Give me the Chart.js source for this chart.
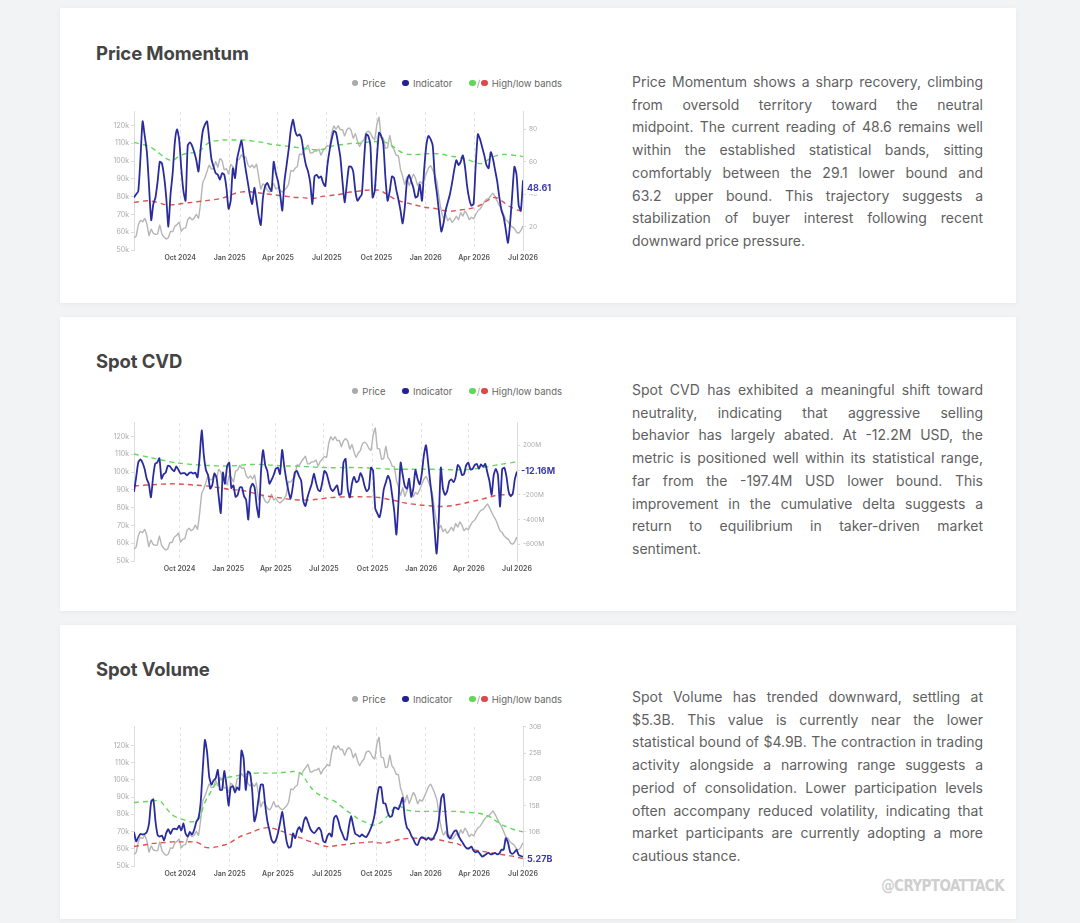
<!DOCTYPE html>
<html><head><meta charset="utf-8">
<script src="https://cdn.jsdelivr.net/npm/chart.js@4.4.1/dist/chart.umd.min.js"></script>
<style>
html,body{margin:0;padding:0;}
body{width:1080px;height:923px;overflow:hidden;background:#f2f3f5;font-family:Inter,"Noto Sans",sans-serif;position:relative;}
.card{position:absolute;left:60px;width:956px;background:#fff;box-shadow:0 1px 5px rgba(0,0,0,0.05);}
.title{position:absolute;left:36px;font-size:18.5px;font-weight:700;color:#444;line-height:22px;margin:0;letter-spacing:-0.1px;}
.legend{position:absolute;right:454px;height:12px;display:flex;align-items:center;font-size:9.5px;color:#666;white-space:nowrap;}
.legend .item{display:flex;align-items:center;margin-left:17px;}
.legend .dot{display:inline-block;width:6.5px;height:6.5px;border-radius:50%;margin-right:4px;}
.legend .sl{margin:0 1px;color:#999;}
.chartbox{position:absolute;left:36px;width:470px;}
.text{position:absolute;left:572px;width:351px;font-size:14px;line-height:22.7px;color:#5f5f5f;}
.text div{text-align:justify;text-align-last:justify;white-space:nowrap;}
.text div.last{text-align:left;text-align-last:left;}
.wm{position:absolute;right:12px;top:252px;font-size:15px;font-weight:800;color:#cfcfcf;letter-spacing:-0.6px;font-family:"DejaVu Sans Condensed","Liberation Sans Narrow",sans-serif;}
</style>
</head>
<body>

<div class="card" style="top:8px;height:295px;">
  <div class="title" style="top:34px;">Price Momentum</div>
  <div class="legend" style="top:69px;">
    <span class="item"><span class="dot" style="background:#aaaaaa"></span>Price</span>
    <span class="item"><span class="dot" style="background:#23238f"></span>Indicator</span>
    <span class="item"><span class="dot" style="background:#5fd85a;margin-right:0"></span><span class="sl">/</span><span class="dot" style="background:#d94a48"></span>High/low bands</span>
  </div>
  <div class="chartbox" style="top:97px;height:162px;"><canvas id="c1"></canvas></div>
  <div class="text" style="top:63px;">
    <div>Price Momentum shows a sharp recovery, climbing</div>
    <div>from oversold territory toward the neutral</div>
    <div>midpoint. The current reading of 48.6 remains well</div>
    <div>within the established statistical bands, sitting</div>
    <div>comfortably between the 29.1 lower bound and</div>
    <div>63.2 upper bound. This trajectory suggests a</div>
    <div>stabilization of buyer interest following recent</div>
    <div class="last">downward price pressure.</div>
  </div>
</div>

<div class="card" style="top:317px;height:294px;">
  <div class="title" style="top:33px;">Spot CVD</div>
  <div class="legend" style="top:68px;">
    <span class="item"><span class="dot" style="background:#aaaaaa"></span>Price</span>
    <span class="item"><span class="dot" style="background:#23238f"></span>Indicator</span>
    <span class="item"><span class="dot" style="background:#5fd85a;margin-right:0"></span><span class="sl">/</span><span class="dot" style="background:#d94a48"></span>High/low bands</span>
  </div>
  <div class="chartbox" style="top:99px;height:162px;"><canvas id="c2"></canvas></div>
  <div class="text" style="top:62px;">
    <div>Spot CVD has exhibited a meaningful shift toward</div>
    <div>neutrality, indicating that aggressive selling</div>
    <div>behavior has largely abated. At -12.2M USD, the</div>
    <div>metric is positioned well within its statistical range,</div>
    <div>far from the -197.4M USD lower bound. This</div>
    <div>improvement in the cumulative delta suggests a</div>
    <div>return to equilibrium in taker-driven market</div>
    <div class="last">sentiment.</div>
  </div>
</div>

<div class="card" style="top:625px;height:294px;">
  <div class="title" style="top:33px;">Spot Volume</div>
  <div class="legend" style="top:68px;">
    <span class="item"><span class="dot" style="background:#aaaaaa"></span>Price</span>
    <span class="item"><span class="dot" style="background:#23238f"></span>Indicator</span>
    <span class="item"><span class="dot" style="background:#5fd85a;margin-right:0"></span><span class="sl">/</span><span class="dot" style="background:#d94a48"></span>High/low bands</span>
  </div>
  <div class="chartbox" style="top:95px;height:166px;"><canvas id="c3"></canvas></div>
  <div class="text" style="top:61px;">
    <div>Spot Volume has trended downward, settling at</div>
    <div>$5.3B. This value is currently near the lower</div>
    <div>statistical bound of $4.9B. The contraction in trading</div>
    <div>activity alongside a narrowing range suggests a</div>
    <div>period of consolidation. Lower participation levels</div>
    <div>often accompany reduced volatility, indicating that</div>
    <div>market participants are currently adopting a more</div>
    <div class="last">cautious stance.</div>
  </div>
  <div class="wm">@CRYPTOATTACK</div>
</div>

<script>
// ---------- data ----------
const startDate = '2024-07-07';
const stepDays = 4;        // sampling of price / indicator series
const bandStepDays = 12;   // sampling of high/low bands

const quarterLabels = ['Oct 2024','Jan 2025','Apr 2025','Jul 2025','Oct 2025','Jan 2026','Apr 2026','Jul 2026'];
const quarterDates  = ['2024-10-01','2025-01-01','2025-04-01','2025-07-01','2025-10-01','2026-01-01','2026-04-01','2026-07-01'];

const priceTicks = [50,60,70,80,90,100,110,120]; // thousands USD

// BTC price, thousands USD
const price = [
56.7,57.8,64.0,66.7,65.9,67.8,64.6,58.1,61.7,59.4,
58.9,59.0,64.1,59.0,57.3,56.2,57.0,60.5,60.3,63.3,
64.3,65.6,60.6,62.2,62.4,67.0,68.4,67.0,67.9,70.2,
67.8,76.6,88.0,90.6,94.3,97.7,95.6,95.9,99.9,96.6,
101.4,100.2,95.1,95.8,92.8,98.1,96.9,94.5,100.5,101.1,
103.7,102.0,102.4,98.0,96.5,97.8,96.1,98.3,91.4,84.3,
87.2,86.2,83.7,82.6,84.2,87.5,84.3,85.2,83.5,82.6,
83.7,84.9,87.5,94.7,94.3,96.0,97.0,104.0,103.6,105.6,
107.3,108.9,104.6,104.7,105.7,105.7,106.8,103.3,106.0,107.3,
108.8,108.2,116.0,119.8,117.9,119.9,117.6,117.8,114.2,117.5,
118.7,117.4,112.9,115.4,111.2,108.2,110.7,112.1,116.0,116.8,
115.7,113.3,112.2,120.6,124.7,113.2,113.0,107.2,107.6,114.5,
108.3,106.5,103.3,103.0,95.5,91.5,86.8,91.3,86.3,89.4,
92.7,90.3,86.2,88.5,87.5,90,93,96,97.5,95,
92,88,79,72,68,70,66.5,68,65.5,67,
69,67,71,69,72,70,67,68.5,67.5,70,
72,73,75,77,78.5,79,80.5,82,80,77.5,
75,73,70,67,66,64,63,62,60,59.5,
61,63.5];

// Price Momentum
const momentum = [
38,40,42,62,85,76,66,45,24,34,
38,48,60,59,51,38,20,40,53,72,
80,74,56,42,36,70,72,70,66,61,
54,68,79,83,85,74,62,57,53,52,
49,53,52,44,31,36,56,50,62,68,
73,64,55,47,39,34,44,36,27,21,
38,45,47,44,42,60,53,48,40,30,
48,58,68,80,86,79,76,77,74,65,
58,54,47,34,51,52,50,51,47,45,
58,67,74,79,78,71,63,48,35,46,
57,57,54,42,36,38,40,60,77,76,
70,38,42,62,78,76,71,50,36,42,
51,50,43,37,30,22,32,48,52,48,
44,38,39,46,36,55,70,76,74,70,
50,40,28,17,22,30,35,40,47,55,
61,58,60,64,57,45,37,33,34,58,
77,74,69,64,58,56,66,62,55,48,
38,30,26,18,10,22,40,57,52,33,
30,48.61];
const momentumHigh = [
72,71,70,68,65,62,61,63.5,65,65.5,
66,70,72.5,73,73.5,73.5,73.5,73.5,73,72.5,
72,71,70.5,70,69.5,69,68.5,68,67.5,67.5,
68.5,70,70.5,71,71.5,71.5,72,72.5,72.5,72,
70,67,65,64.5,64.5,65,65,65,64.5,63.5,
63,62,61,59.5,59,61.5,63.5,64.5,64.5,64,
63.5,63.2];
const momentumLow = [
35,35.5,36,35.5,34.5,33.5,33.5,34,34.5,35,
35.5,36,36.5,37,38,39.5,41,41.5,41.5,41,
40.5,40,39.5,39,38.5,38,38,37.5,37.5,38.5,
39,39.5,40,41,41.5,42,42.5,42.5,42.5,40.5,
38,36,35,34,33,32,31.5,31,30,29.5,
30,30.5,31,32,34,36.5,38,36,33,31,
29.5,29.1];
const momentumTicks = [20,40,60,80];

// Spot CVD, millions USD
const cvd = [
-176,-60,60,85,60,10,-70,-110,-220,-60,
50,62,95,-70,-33,-20,35,30,5,-10,
30,2,-28,-25,-25,-42,-25,-18,-28,-20,
-60,100,320,120,0,-40,-150,-120,-30,-60,
-210,-346,-20,-111,30,59,-145,-124,-216,-200,
-140,-140,-210,-242,-399,-150,-110,-140,-290,-380,
-20,160,40,-7,-110,-80,-40,10,20,-33,
163,30,-80,-170,-230,-140,-20,-8,-50,-85,
-250,-290,-220,-163,-110,-30,-100,-160,-170,-98,
-7,-28,-90,-150,-170,-145,-124,-200,-190,60,
90,-150,-220,-110,-55,-98,-88,-25,-60,-130,
-170,-150,20,-7,-307,-350,-380,-300,-160,-100,
-46,-85,-203,-333,-520,-255,60,-40,-130,-150,
-70,-216,-150,0,-70,-115,-30,120,200,60,
-100,-250,-470,-673,-412,20,-150,-200,-170,-90,
-75,-98,-55,40,20,-40,-30,40,59,5,
10,40,50,10,46,25,50,-20,-90,-200,
-40,10,-40,-294,7,18,-50,-170,-210,-190,
-72,-12.16];
const cvdHigh = [
129,118,107,96,85,74,64,56,50,46,
42,38,36,34,33,34,36,40,44,46,
45,42,38,35,33,32,30,28,25,22,
20,19,19,20,20,20,19,17,14,11,
8,7,6,6,6,7,7,6,5,4,
3,2,3,6,12,20,30,40,48,56,
64,67];
const cvdLow = [
-129,-125,-121,-118,-115,-112,-111,-112,-115,-119,
-123,-126,-132,-140,-148,-155,-160,-165,-175,-188,
-200,-210,-216,-224,-232,-238,-241,-242,-240,-235,
-228,-222,-218,-216,-215,-215,-216,-216,-218,-225,
-235,-245,-258,-268,-275,-281,-286,-290,-294,-293,
-288,-278,-268,-255,-245,-232,-218,-205,-200,-198,
-197.5,-197.4];
const cvdTicks = [200,0,-200,-400,-600];

// Spot Volume, billions USD
const volume = [
10.0,8.2,9.0,9.6,9.5,9.6,10.0,11.6,15.8,16.2,
12.0,9.4,9.1,9.3,8.4,9.8,10.5,9.6,10.5,10.6,
10.5,11.2,10.3,11.6,9.7,9.1,10.0,9.5,10.4,11.9,
12.6,15.5,22.0,27.5,25.2,20.5,19.0,19.8,20.2,21.8,
18.0,18.0,21.6,19.0,15.0,18.5,18.7,17.5,18.5,18.0,
25.5,24.0,18.0,21.5,21.2,17.8,12.0,13.5,16.5,19.0,
19.0,15.3,12.2,10.3,8.5,7.9,8.4,9.8,11.8,13.8,
11.0,8.2,7.0,7.2,9.7,8.8,10.3,10.9,10.0,12.0,
12.8,11.8,10.6,10.0,9.8,10.3,10.8,10.2,8.3,8.0,
9.2,9.7,9.1,12.5,13.1,12.2,10.6,9.6,8.6,8.5,
11.0,13.0,11.2,9.6,9.4,9.1,9.5,9.2,9.0,9.6,
10.5,11.6,13.4,16.3,18.5,18.5,15.5,15.4,13.8,12.9,
13.0,14.6,14.6,14.3,15.3,16.5,12.8,10.8,10.3,9.3,
8.6,7.7,7.5,8.6,9.0,8.8,8.5,8.9,8.5,8.6,
9.4,10.3,12.8,16.5,17.2,13.2,9.4,8.7,9.4,10.1,
10.3,9.3,8.5,7.9,7.2,6.8,6.9,7.2,6.4,6.1,
6.3,5.8,5.3,5.5,5.8,6.0,5.7,5.8,6.0,5.7,
5.9,6.6,6.6,8.8,8.0,6.2,5.8,6.1,6.6,5.6,
5.4,5.27];
const volumeHigh = [
15.6,15.7,15.8,15.9,15.9,14.5,13.2,12.6,12.2,11.9,
12.4,15.6,17.8,19.6,20.2,20.5,20.7,20.9,21.1,21.2,
21.2,21.2,21.2,21.3,21.4,21.5,21.0,19.2,17.7,16.9,
16.3,15.9,15.0,14.0,13.2,12.3,11.8,11.3,11.6,12.6,
14.0,15.0,14.3,14.0,13.9,13.9,13.9,13.9,13.9,13.9,
13.9,13.8,13.7,13.6,13.4,13.0,12.2,11.4,10.9,10.4,
10.1,10.0];
const volumeLow = [
7.2,7.4,7.6,7.8,7.9,8.0,8.1,8.1,8.1,8.1,
7.9,7.1,7.0,7.2,7.5,8.0,8.8,9.4,9.8,10.3,
10.7,10.8,10.5,10.1,9.6,9.2,8.8,8.3,7.9,7.5,
7.2,7.3,7.5,7.6,7.8,7.9,8.0,8.1,7.9,7.9,
8.2,8.5,8.7,8.8,8.8,8.8,8.8,8.6,8.3,8.0,
7.8,7.3,6.8,6.5,6.3,6.1,5.9,5.7,5.5,5.3,
5.0,4.9];
const volumeTicks = [5,10,15,20,25,30];

// ---------- helpers ----------
const DAY = 86400000;
const t0 = Date.parse(startDate + 'T00:00:00Z');
const dayOf = s => Math.round((Date.parse(s + 'T00:00:00Z') - t0) / DAY);
const lastDay = (price.length - 1) * stepDays;
const quarterDays = quarterDates.map(dayOf);
const bandDay = i => Math.min(i * bandStepDays, lastDay);
const toPts = (arr, f) => arr.map((v, i) => ({x: f(i), y: v}));

const lastLabel = {
  id: 'lastLabel',
  afterDraw(chart, args, o) {
    const d = chart.data.datasets[0].data;
    const last = d[d.length - 1].y;
    const ys = chart.scales.yR;
    const ctx = chart.ctx;
    const y = ys.getPixelForValue(last) + o.offset;
    const x = chart.chartArea.right + 4;
    ctx.save();
    ctx.font = 'bold 9px Inter, sans-serif';
    const txt = o.text;
    const w = ctx.measureText(txt).width;
    ctx.fillStyle = '#ffffff';
    ctx.fillRect(x - 1, y - 6, w + 3, 12);
    ctx.fillStyle = '#3a3aae';
    ctx.textBaseline = 'middle';
    ctx.fillText(txt, x, y);
    ctx.restore();
  }
};

function makeChart(id, ind, hi, lo, cfg) {
  const ctx = document.getElementById(id);
  return new Chart(ctx, {
    type: 'line',
    data: {
      datasets: [
        {label: 'Indicator', data: toPts(ind, i => i * stepDays), yAxisID: 'yR',
         borderColor: '#2a2c9e', borderWidth: 1.8, pointRadius: 0, tension: 0.2},
        {label: 'High', data: toPts(hi, bandDay), yAxisID: 'yR',
         borderColor: '#62d95a', borderDash: [5, 4], borderWidth: 1.4, pointRadius: 0, tension: 0.4},
        {label: 'Low', data: toPts(lo, bandDay), yAxisID: 'yR',
         borderColor: '#da5350', borderDash: [5, 4], borderWidth: 1.4, pointRadius: 0, tension: 0.4},
        {label: 'Price', data: toPts(price, i => i * stepDays), yAxisID: 'yL',
         borderColor: '#b5b5b5', borderWidth: 1.4, pointRadius: 0, tension: 0.1}
      ]
    },
    options: {
      responsive: true, maintainAspectRatio: false, animation: false,
      layout: {padding: {top: 3, left: 0, right: 0, bottom: 0}},
      plugins: {legend: {display: false}, tooltip: {enabled: false},
                lastLabel: {text: cfg.label, offset: cfg.offset}},
      scales: {
        x: {
          type: 'linear', min: 0, max: lastDay,
          afterBuildTicks: s => { s.ticks = quarterDays.map(v => ({value: v})); },
          afterFit: s => { s.height = cfg.xh; },
          ticks: {callback: v => quarterLabels[quarterDays.indexOf(v)] || '',
                  font: {size: 7, weight: '600', family: 'Inter'}, color: '#555',
                  padding: 4, maxRotation: 0, autoSkip: false},
          grid: {display: true, drawTicks: false, color: '#e2e2e2', lineWidth: 1},
          border: {display: false, dash: [3, 3]}
        },
        yL: {
          position: 'left', min: 50, max: cfg.lmax,
          afterBuildTicks: s => { s.ticks = priceTicks.map(v => ({value: v})); },
          afterFit: s => { s.width = 38; },
          ticks: {callback: v => v + 'k', font: {size: 7, family: 'Inter'}, color: '#aaa', padding: 2},
          grid: {drawOnChartArea: false, drawTicks: true, tickLength: 3, color: '#dcdcdc'},
          border: {display: true, color: '#dcdcdc'}
        },
        yR: {
          position: 'right', min: cfg.rmin, max: cfg.rmax,
          afterBuildTicks: s => { s.ticks = cfg.rticks.map(v => ({value: v})); },
          afterFit: s => { s.width = cfg.rw; },
          ticks: {callback: v => v + cfg.unit, font: {size: 6.5, family: 'Inter'}, color: '#aaa', padding: 3},
          grid: {drawOnChartArea: false, drawTicks: true, tickLength: 3, color: '#dcdcdc'},
          border: {display: true, color: '#dcdcdc'}
        }
      }
    },
    plugins: [lastLabel]
  });
}

makeChart('c1', momentum, momentumHigh, momentumLow,
  {lmax: 127.7, rmin: 5.6, rmax: 90.8, rticks: momentumTicks, unit: '', rw: 43, xh: 17,
   label: momentum[momentum.length - 1].toFixed(2), offset: 8});
makeChart('c2', cvd, cvdHigh, cvdLow,
  {lmax: 127.6, rmin: -733, rmax: 380, rticks: cvdTicks, unit: 'M', rw: 49, xh: 17,
   label: cvd[cvd.length - 1].toFixed(2) + 'M', offset: 0});
makeChart('c3', volume, volumeHigh, volumeLow,
  {lmax: 130.8, rmin: 3.5, rmax: 30, rticks: volumeTicks, unit: 'B', rw: 43, xh: 20,
   label: volume[volume.length - 1].toFixed(2) + 'B', offset: 3});
</script>
</body></html>
